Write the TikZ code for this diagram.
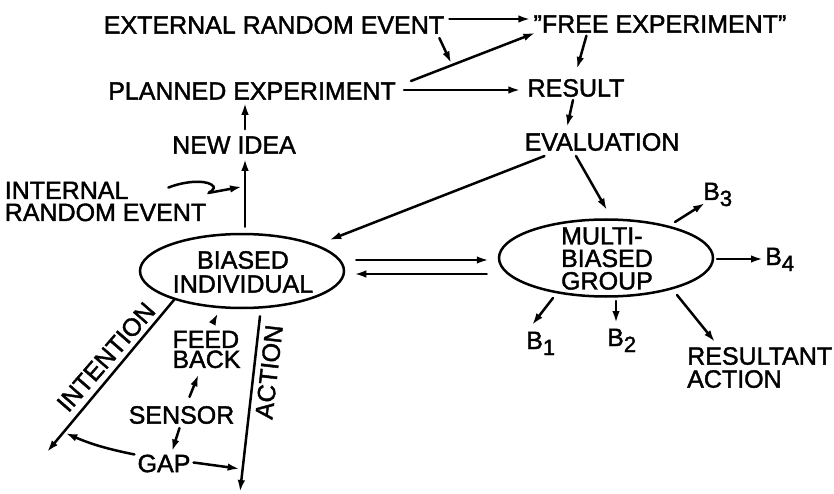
\documentclass[tikz,border=0pt]{standalone}
\usepackage{fontspec}
\setmainfont{Liberation Sans}[BoldFont=Liberation Sans, BoldFeatures={FakeBold=1.6}]
\usetikzlibrary{arrows.meta,calc,shapes.geometric}

\newcommand{\lowd}[1]{\raisebox{-6pt}{\fontsize{22}{22}\selectfont #1}}

\tikzset{
  lbl/.style={inner sep=0pt, font=\fontsize{25}{23}\selectfont\bfseries},
  ln/.style={line width=2.5pt, line cap=round},
  arr/.style={ln, -{Latex[length=12pt,width=7.5pt]}},
  blob/.style={draw, ellipse, line width=2.5pt, inner sep=0pt},
}

\begin{document}
\begin{tikzpicture}[x=1pt, y=-1pt]
\useasboundingbox (0,0) rectangle (834,494);

% --- text blocks ---
\node[lbl] (ext)     at (274,25)  {EXTERNAL RANDOM EVENT};
\node[lbl] (free)    at (660,24)  {\char34 FREE EXPERIMENT\char34};
\node[lbl] (planned) at (252,91)  {PLANNED EXPERIMENT};
\node[lbl] (result)  at (576,88)  {RESULT};
\node[lbl] (newidea) at (234,145) {NEW IDEA};
\node[lbl] (eval)    at (602,142) {EVALUATION};
\node[lbl, align=left, font=\fontsize{25}{22}\selectfont\bfseries] (internal) at (105.5,201.5) {INTERNAL\\RANDOM EVENT};

% --- the two ellipses ---
\node[blob, minimum width=204pt, minimum height=74pt] (bi) at (242,271) {};
\node[lbl, align=center, font=\fontsize{25}{24}\selectfont\bfseries] (bitxt) at (243,272) {BIASED\\INDIVIDUAL};
\node[blob, minimum width=214pt, minimum height=77pt] (multi) at (606,258) {};
\node[lbl, align=left, font=\fontsize{25}{22.5}\selectfont\bfseries] (multitxt) at (607,258.5) {MULTI-\\BIASED\\GROUP};

% --- group outcomes ---
\node[lbl, anchor=base west] (b3) at (703,200) {B\lowd{3}};
\node[lbl, anchor=base west] (b4) at (765,265) {B\lowd{4}};
\node[lbl, anchor=base west] (b1) at (526,349) {B\lowd{1}};
\node[lbl, anchor=base west] (b2) at (607,346) {B\lowd{2}};
\node[lbl, align=left, anchor=north west] (resultant) at (687,347) {RESULTANT\\ACTION};

% --- feedback loop ---
\node[lbl, align=left, font=\fontsize{25}{20}\selectfont\bfseries] (feed) at (206.5,349.5) {FEED\\BACK};
\node[lbl] (sensor) at (181.5,415) {SENSOR};
\node[lbl] (gap)    at (164,463.5) {GAP};
\node[lbl, rotate=49]   (intent) at (106,357) {INTENTION};
\node[lbl, rotate=83.5] (action) at (269,372) {ACTION};

% --- free ends and helper points ---
\coordinate (intend)   at (47,452);
\coordinate (actstart) at ($(bi.south)+(18,7)$);
\coordinate (actend)   at (240,492);
\coordinate (pa) at ($(planned.east)+(15,-10)$);
\coordinate (pb) at ($(free.south west)+(2,0)$);
\coordinate (sq) at ($(internal.north east)+(-38,6)$);
\coordinate (sqend) at ($(bi.north)+(0,-46)$);

% --- experiment chain ---
\draw[arr] ($(ext.east)+(5,-6)$) -- ($(free.west)+(-3,-5)$);
\draw[arr] (pa) -- (pb);
\draw[arr, shorten >=2pt] ($(ext.south east)+(-5,4)$) -- ($(pa)!0.33!(pb)$);
\draw[arr] ($(planned.east)+(8,-1)$) -- ($(result.west)+(-7,2)$);
\draw[arr] ($(free.south west)+(53,3)$) -- ($(result.north)+(1,-10)$);
\draw[arr] ($(result.south)+(-3,3)$) -- ($(eval.north)+(-35,-6)$);
\draw[arr] ($(eval.south west)+(20,5)$) -- ($(bi.east)+(-16,-31)$);
\draw[arr] ($(eval.south)+(-26,5)$) -- ($(multi.north)+(1,-8)$);

% --- idea chain ---
\draw[arr] ($(bi.north)+(3,-6)$) -- ($(newidea.south)+(11,5)$);
\draw[arr] ($(newidea.north)+(11,-7)$) -- ($(planned.south)+(-7,3)$);
\draw[arr] (sq) .. controls ($(sq)+(15,-6)$) and ($(sq)+(35,-8)$) .. ($(sq)+(43,-3)$)
           .. controls ($(sq)+(51,2)$) and ($(sq)+(36,6)$) .. ($(sq)+(42,5)$)
           -- (sqend);

% --- individual <-> group ---
\draw[arr] ($(bi.east)+(11,-11)$) -- ($(multi.west)+(-9,2)$);
\draw[arr] ($(multi.west)+(-11,16)$) -- ($(bi.east)+(9,3)$);

% --- group outputs ---
\draw[arr] ($(multi.center)+(69,-36)$) -- ($(b3.base west)+(2,3)$);
\draw[arr] ($(multi.center)+(111,1)$) -- ($(b4.base west)+(-2,-6)$);
\draw[arr] ($(multi.center)+(-53,40)$) -- ($(b1.base west)+(6,-24)$);
\draw[arr] ($(multi.center)+(10,43)$) -- ($(b2.base west)+(9,-23)$);
\draw[arr] ($(multi.center)+(71,37)$) -- ($(resultant.north west)+(28,-5)$);

% --- intention / action / feedback ---
\draw[arr] (bi.203) -- (intend);
\draw[arr] (actstart) -- (actend);
\draw[arr] ($(feed.north)+(7,-9)$) -- ($(bi.south)+(-24,4)$);
\draw[arr] ($(sensor.north)+(8,-9)$) -- ($(feed.south)+(-8,6)$);
\draw[arr] ($(sensor.south)+(-2,4)$) -- ($(gap.north)+(8,-3)$);
\draw[arr, shorten >=2pt] ($(gap.north west)+(-3,0)$) to[bend left=6] ($(bi.203)!0.87!(intend)$);
\draw[arr, shorten >=3pt] ($(gap.east)+(3,-1)$) -- ($(actstart)!0.87!(actend)$);

\end{tikzpicture}
\end{document}
